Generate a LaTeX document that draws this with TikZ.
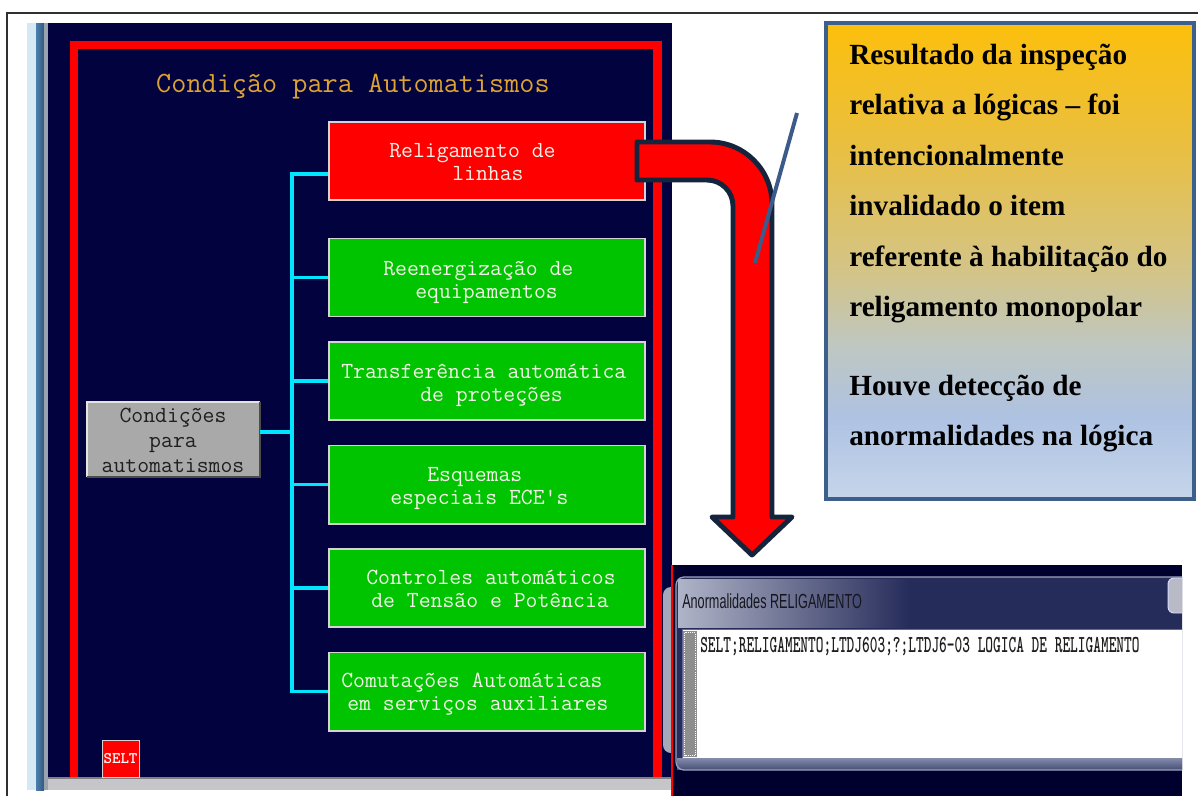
\documentclass[tikz,border=0pt]{standalone}
\usepackage{fontspec}
\usepackage{graphicx}
\newfontfamily\notefont{Liberation Serif}
\newfontfamily\winfont{Liberation Sans}

\definecolor{navy}{HTML}{02023F}
\definecolor{scrred}{HTML}{FF0000}
\definecolor{scrgreen}{HTML}{00C400}
\definecolor{boxedge}{HTML}{D4D4D4}
\definecolor{scrtext}{HTML}{F2F2E6}
\definecolor{titlegold}{HTML}{DCA232}
\definecolor{linkcyan}{HTML}{00E6FF}
\definecolor{btngray}{HTML}{A9A9A9}
\definecolor{btnlight}{HTML}{E4E4E4}
\definecolor{btndark}{HTML}{4C4C4C}
\definecolor{stripA}{HTML}{D4E9F4}
\definecolor{stripB}{HTML}{4B7FB0}
\definecolor{stripC}{HTML}{9AA4AE}
\definecolor{bargray}{HTML}{C6C6CA}
\definecolor{arrowedge}{HTML}{14243C}
\definecolor{calloutblue}{HTML}{3C5A8A}
\definecolor{noteedge}{HTML}{3D5F8C}
\definecolor{noteA}{HTML}{C6D6EA}
\definecolor{noteB}{HTML}{AEC2E2}
\definecolor{noteC}{HTML}{BEC7C2}
\definecolor{noteD}{HTML}{D2C48A}
\definecolor{noteE}{HTML}{EABF3E}
\definecolor{noteF}{HTML}{FCBF0C}
\definecolor{insetnavy}{HTML}{00002E}
\definecolor{framec}{HTML}{262C5A}
\definecolor{glowc}{HTML}{B0B4C8}
\definecolor{frameline}{HTML}{9CA2BC}
\definecolor{bandtop}{HTML}{848CAC}
\definecolor{bandbot}{HTML}{4A527A}
\definecolor{scrollgray}{HTML}{8E8E8E}
\definecolor{wintitle}{HTML}{16161F}
\definecolor{logtext}{HTML}{1E1E1E}
\definecolor{sidewin}{HTML}{A6AAB8}
\definecolor{pageline}{HTML}{303030}

% path fills use the 25bp..75bp band of a 100bp shading
\pgfdeclareverticalshading{notefill}{100bp}{%
  color(0bp)=(noteA); color(25bp)=(noteA); color(33.5bp)=(noteB);
  color(41bp)=(noteC); color(48.5bp)=(noteD); color(62.5bp)=(noteE);
  color(75bp)=(noteF); color(100bp)=(noteF)}

\begin{document}
\begin{tikzpicture}[x=0.025cm, y=-0.025cm,
  scrbox/.style={draw=boxedge, line width=1.4pt, minimum width=7.9cm,
    minimum height=1.95cm, inner sep=0pt},
  greenbox/.style={scrbox, fill=scrgreen},
  redbox/.style={scrbox, fill=scrred},
  scrtxt/.style={font=\fontsize{16.4}{19}\selectfont\ttfamily, text=scrtext,
    anchor=base west, inner sep=0pt},
  btntxt/.style={font=\fontsize{16.4}{19}\selectfont\ttfamily, text=black!88,
    anchor=base, inner sep=0pt},
  link/.style={draw=linkcyan, line width=2.8pt},
  notetxt/.style={font=\notefont\bfseries\fontsize{20.8}{24}\selectfont,
    anchor=base west, inner sep=0pt},
]
\useasboundingbox (0,0) rectangle (1198,796);
\fill[white] (0,0) rectangle (1198,796);

% page frame
\draw[pageline, line width=0.8pt] (7,796) -- (7,13) -- (1198,13);

% ---- control screen panel ----
\fill[stripA] (27,23) rectangle (36,790);
\shade[left color=stripB, right color=stripB!70!black] (36,23) rectangle (44,790);
\fill[stripC] (44,23) rectangle (48,790);
\fill[navy] (48,23) rectangle (672,778);
\draw[scrred, line width=5.7pt] (74,778) -- (74,45) -- (657.5,45) -- (657.5,778);
\fill[bargray] (48,778) rectangle (672,790);
\draw[gray, line width=0.8pt] (48,778) -- (672,778);

\node[font=\fontsize{20.9}{24}\selectfont\ttfamily, text=titlegold, anchor=base,
  inner sep=0pt] (title) at (353,92) {Condição para Automatismos};

% condition boxes
\node[redbox]   (b1) at (487,161)   {};
\node[greenbox] (b2) at (487,277.5) {};
\node[greenbox] (b3) at (487,381)   {};
\node[greenbox] (b4) at (487,484.5) {};
\node[greenbox] (b5) at (487,588)   {};
\node[greenbox] (b6) at (487,691.5) {};

\node[scrtxt] (b1a) at (389,157) {Religamento de};
\node[scrtxt] (b1b) at (452,180) {linhas};
\node[scrtxt] (b2a) at (383,275) {Reenergização de};
\node[scrtxt] (b2b) at (415,298) {equipamentos};
\node[scrtxt] (b3a) at (341,378) {Transferência automática};
\node[scrtxt] (b3b) at (420,401) {de proteções};
\node[scrtxt] (b4a) at (427,481) {Esquemas};
\node[scrtxt] (b4b) at (390,504) {especiais ECE's};
\node[scrtxt] (b5a) at (366,584) {Controles automáticos};
\node[scrtxt] (b5b) at (371,607) {de Tensão e Potência};
\node[scrtxt] (b6a) at (341,687) {Comutações Automáticas};
\node[scrtxt] (b6b) at (347,710) {em serviços auxiliares};

% root button
\node[fill=btngray, minimum width=4.325cm, minimum height=1.875cm, inner sep=0pt]
  (cond) at (173.5,439.5) {};
\draw[btnlight, line width=1.4pt] (cond.south west) |- (cond.north east);
\draw[btndark, line width=1.4pt] (cond.north east) |- (cond.south west);
\node[btntxt] (conda) at (173,422) {Condições};
\node[btntxt] (condb) at (173,447) {para};
\node[btntxt] (condc) at (173,472) {automatismos};

% tree connectors
\coordinate (trunk) at (292,432);
\draw[link] (cond.east |- trunk) -- (trunk);
\draw[link] (trunk) |- ([yshift=-9.2pt]b1.west);
\draw[link] (trunk) |- (b2.west);
\draw[link] (trunk) |- (b3.west);
\draw[link] (trunk) |- (b4.west);
\draw[link] (trunk) |- (b5.west);
\draw[link] (trunk) |- (b6.west);

% SELT key
\node[fill=scrred, draw=boxedge, line width=0.7pt, minimum width=0.925cm,
  minimum height=0.925cm, inner sep=0pt] (selt) at (120.5,758.5) {};
\node[font=\fontsize{11.5}{13}\selectfont\ttfamily\bfseries, text=white,
  inner sep=0pt] (seltt) at (selt) {SELT};

% ---- anomaly window ----
\fill[sidewin, rounded corners=0.2cm] (663,587) rectangle (700,753);
\fill[insetnavy] (672,565) rectangle (1182,796);
\begin{scope}
  \clip (672,565) rectangle (1182,796);
  \fill[framec, rounded corners=0.2cm] (676,577) rectangle (1230,770);
  \shade[left color=glowc, right color=framec] (678,579) rectangle (910,627);
  \shade[top color=bandtop, bottom color=bandbot] (677,758) rectangle (1230,769);
  \draw[frameline, line width=0.9pt, rounded corners=0.2cm] (676,577) rectangle (1230,770);
  \fill[sidewin!80!white, rounded corners=0.15cm] (1168,578) rectangle (1210,613);
  \draw[white!85!blue, line width=0.7pt, rounded corners=0.15cm] (1168,578) rectangle (1210,613);
  \fill[white] (682,629) rectangle (1230,758);
  \draw[gray!80!blue, line width=0.7pt] (682,758) -- (682,629) -- (1230,629);
  \fill[scrollgray] (683,631) rectangle (697,757);
  \draw[white, densely dotted, line width=0.5pt] (684.5,632.5) rectangle (695.5,755.5);
\end{scope}
\draw[scrred, line width=1.2pt] (672,565) -- (672,796);
\node[font=\winfont\fontsize{14.5}{17}\selectfont, text=wintitle, anchor=base west,
  inner sep=0pt] (wtitle) at (682,608) {\scalebox{0.62}[1]{Anormalidades RELIGAMENTO}};
\node[font=\fontsize{17.4}{20}\selectfont\ttfamily\bfseries, text=logtext, anchor=base west,
  inner sep=0pt] (wlog) at (700,652)
  {\scalebox{0.6}[1]{SELT;RELIGAMENTO;LTDJ603;?;LTDJ6-03 LOGICA DE RELIGAMENTO}};

% ---- bent arrow from the reclosing box down to the window ----
\draw[fill=scrred, draw=arrowedge, line width=3.5pt, line join=round]
  (637,142) -- (710,142) .. controls (744.2,142) and (772,169.8) .. (772,204)
  -- (772,517) -- (792,517) -- (752,555) -- (712,517) -- (733,517) -- (733,206)
  .. controls (733,191.6) and (721.4,180) .. (707,180) -- (637,180) -- cycle;

% ---- note box ----
\node[shade, shading=notefill, draw=noteedge, line width=2.8pt, minimum width=9.2cm,
  minimum height=11.9cm, inner sep=0pt] (note) at (1010,261) {};
\node[notetxt] (n1) at (849,64)    {Resultado da inspeção};
\node[notetxt] (n2) at (849,114.5) {relativa a lógicas – foi};
\node[notetxt] (n3) at (849,165)   {intencionalmente};
\node[notetxt] (n4) at (849,215.5) {invalidado o item};
\node[notetxt] (n5) at (849,266)   {referente à habilitação do};
\node[notetxt] (n6) at (849,316.5) {religamento monopolar};
\node[notetxt] (n7) at (849,395)   {Houve detecção de};
\node[notetxt] (n8) at (849,445.5) {anormalidades na lógica};

% callout stroke
\coordinate (calloutA) at (797,113);
\coordinate (calloutB) at (755,263);
\draw[calloutblue, line width=2.8pt] (calloutA) -- (calloutB);
\end{tikzpicture}
\end{document}
